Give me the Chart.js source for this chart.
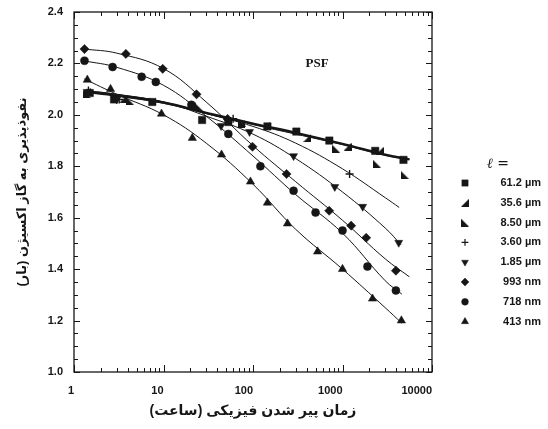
<!DOCTYPE html>
<html>
<head>
<meta charset="utf-8">
<script src="https://cdn.jsdelivr.net/npm/chart.js@4.4.1/dist/chart.umd.min.js"></script>
<style>
  html, body { margin: 0; padding: 0; background: #fff; }
  #wrap { width: 548px; height: 429px; }
</style>
</head>
<body>
<div id="wrap"><canvas id="chart" width="548" height="429"></canvas></div>
<script>
// grain sizes (legend order)
const sizes = ["61.2 µm", "35.6 µm", "8.50 µm", "3.60 µm", "1.85 µm", "993 nm", "718 nm", "413 nm"];

const xTicks = [1, 10, 100, 1000, 10000];
const yTicks = [1.0, 1.2, 1.4, 1.6, 1.8, 2.0, 2.2, 2.4];

// measured points, aging time (h) / permeability (barrer)
const x612 = [1.5, 2.8, 7.5, 27, 53, 145, 305, 713, 2320, 4800];
const y612 = [2.085, 2.06, 2.05, 1.98, 1.972, 1.955, 1.935, 1.90, 1.86, 1.825];
const x356 = [1.4, 3.5, 21, 74, 140, 405, 1140, 2600];
const y356 = [2.09, 2.06, 2.035, 1.965, 1.955, 1.91, 1.876, 1.86];
const x850 = [1.4, 4.2, 25, 76, 850, 2420, 4960];
const y850 = [2.08, 2.055, 2.03, 1.968, 1.868, 1.81, 1.767];
const x360 = [1.45, 3.2, 60, 1200];
const y360 = [2.095, 2.06, 1.985, 1.77];
const x185 = [1.4, 3.0, 44, 91.5, 284, 820, 1680, 4250];
const y185 = [2.09, 2.06, 1.957, 1.934, 1.84, 1.72, 1.643, 1.503];
const x993 = [1.31, 3.8, 9.8, 23.4, 52, 98.7, 237, 710, 1250, 1840, 3950];
const y993 = [2.256, 2.237, 2.179, 2.08, 1.984, 1.876, 1.77, 1.627, 1.569, 1.522, 1.394];
const x718 = [1.31, 2.7, 5.7, 8.2, 20.5, 53, 121, 284, 500, 1000, 1900, 3950];
const y718 = [2.21, 2.186, 2.148, 2.128, 2.039, 1.926, 1.80, 1.705, 1.62, 1.55, 1.41, 1.317];
const x413 = [1.41, 2.56, 9.5, 21, 44.5, 93.7, 145, 243, 527, 1000, 2165, 4550];
const y413 = [2.136, 2.10, 2.004, 1.91, 1.845, 1.74, 1.658, 1.577, 1.468, 1.40, 1.285, 1.20];

// fitted curves
const fitX = [1.3, 3, 10, 30, 100, 300, 1000, 3000];
const fit612 = [2.09, 2.075, 2.048, 2.008, 1.966, 1.93, 1.887, 1.845];
const fit356 = [2.094, 2.075, 2.045, 2.005, 1.962, 1.925, 1.884, 1.843];
const fit360 = [2.095, 2.08, 2.05, 2.005, 1.955, 1.89, 1.79, 1.678];
const fit185 = [2.095, 2.08, 2.05, 1.995, 1.925, 1.83, 1.70, 1.56];
const fit993 = [2.256, 2.24, 2.18, 2.05, 1.88, 1.74, 1.59, 1.44];
const fit718 = [2.21, 2.185, 2.115, 1.995, 1.84, 1.69, 1.54, 1.355];
const fit413 = [2.14, 2.08, 2.00, 1.89, 1.73, 1.555, 1.40, 1.25];
const endX = [5600, 5600, 4300, 4500, 5600, 4600, 4600];
const endY = [1.827, 1.826, 1.64, 1.495, 1.37, 1.303, 1.19];

const ink = "#161616";
const numFont = { family: "'Liberation Sans', Arial, sans-serif", size: 11, weight: "bold" };
const faFont = "'Liberation Sans', 'DejaVu Sans', sans-serif";

function cornerTri(rightSide) {
  const c = document.createElement("canvas");
  c.width = 8; c.height = 8;
  const g = c.getContext("2d");
  g.fillStyle = ink;
  g.beginPath();
  if (rightSide) { g.moveTo(8, 0); g.lineTo(8, 8); g.lineTo(0, 8); }
  else { g.moveTo(0, 0); g.lineTo(0, 8); g.lineTo(8, 8); }
  g.closePath();
  g.fill();
  return c;
}

const markers = [
  { pointStyle: "rect", radius: 5.2, rotation: 0 },
  { pointStyle: cornerTri(true), radius: 4, rotation: 0 },
  { pointStyle: cornerTri(false), radius: 4, rotation: 0 },
  { pointStyle: "cross", radius: 4, rotation: 0 },
  { pointStyle: "triangle", radius: 4.6, rotation: 180 },
  { pointStyle: "rectRot", radius: 4.6, rotation: 0 },
  { pointStyle: "circle", radius: 4, rotation: 0 },
  { pointStyle: "triangle", radius: 4.8, rotation: 0 },
];

const pts = (xs, ys) => xs.map((x, i) => ({ x, y: ys[i] }));
const pointSets = [[x612, y612], [x356, y356], [x850, y850], [x360, y360], [x185, y185], [x993, y993], [x718, y718], [x413, y413]];
const fits = [fit612, fit356, fit360, fit185, fit993, fit718, fit413];

const datasets = [];
pointSets.forEach(([xs, ys], i) => {
  datasets.push({
    type: "scatter",
    label: sizes[i],
    data: pts(xs, ys),
    pointStyle: markers[i].pointStyle,
    rotation: markers[i].rotation,
    pointRadius: markers[i].radius,
    pointBackgroundColor: ink,
    pointBorderColor: ink,
    pointBorderWidth: markers[i].pointStyle === "cross" ? 1.4 : 0.5,
    showLine: false,
    order: 1,
  });
});
fits.forEach((ys, i) => {
  datasets.push({
    type: "line",
    label: "fit",
    data: pts(fitX.concat([endX[i]]), ys.concat([endY[i]])),
    borderColor: ink,
    borderWidth: i === 0 ? 2.4 : 1,
    pointRadius: 0,
    tension: 0.4,
    fill: false,
    order: 2,
  });
});

const frameTicks = {
  id: "frameTicks",
  afterDatasetsDraw(chart) {
    const { ctx, chartArea: a } = chart;
    const xs = chart.scales.x, ys = chart.scales.y;
    ctx.save();
    ctx.strokeStyle = ink;
    ctx.lineWidth = 1.3;
    ctx.strokeRect(a.left, a.top, a.right - a.left, a.bottom - a.top);
    ctx.lineWidth = 1;
    ctx.beginPath();
    for (let d = 1; d <= 10000; d *= 10) {
      for (let m = 1; m <= 9; m++) {
        const v = m * d;
        if (v > 10000) break;
        const px = Math.round(xs.getPixelForValue(v)) + 0.5;
        const len = m === 1 ? 7 : 4;
        ctx.moveTo(px, a.bottom); ctx.lineTo(px, a.bottom - len);
        ctx.moveTo(px, a.top); ctx.lineTo(px, a.top + len);
      }
    }
    for (let k = 0; k <= 28; k++) {
      const v = 1 + k * 0.05;
      const py = Math.round(ys.getPixelForValue(v)) + 0.5;
      const len = k % 4 === 0 ? 6 : 4;
      ctx.moveTo(a.left, py); ctx.lineTo(a.left + len, py);
      ctx.moveTo(a.right, py); ctx.lineTo(a.right - len, py);
    }
    ctx.stroke();

    // PSF tag
    ctx.fillStyle = ink;
    ctx.font = "bold 13px 'Liberation Serif', 'Times New Roman', serif";
    ctx.textAlign = "center";
    ctx.textBaseline = "middle";
    ctx.fillText("PSF", xs.getPixelForValue(520), ys.getPixelForValue(2.2));
    ctx.restore();
  },
};

const sizeLegend = {
  id: "sizeLegend",
  afterDraw(chart) {
    const { ctx } = chart;
    ctx.save();
    ctx.fillStyle = ink;
    ctx.strokeStyle = ink;
    ctx.textBaseline = "middle";
    ctx.font = "italic 14px 'DejaVu Serif', serif";
    ctx.textAlign = "left";
    ctx.fillText("ℓ =", 487, 164);
    ctx.font = "bold 11px 'Liberation Sans', Arial, sans-serif";
    ctx.textAlign = "right";
    sizes.forEach((s, i) => {
      const y = 183 + i * 19.8;
      const m = markers[i];
      ctx.lineWidth = m.pointStyle === "cross" ? 1.2 : 0.5;
      Chart.helpers.drawPoint(ctx, { pointStyle: m.pointStyle, rotation: m.rotation, radius: m.radius * 0.85, borderWidth: ctx.lineWidth }, 465, y);
      ctx.fillText(s, 541, y);
    });
    ctx.restore();
  },
};

new Chart(document.getElementById("chart"), {
  type: "scatter",
  data: { datasets },
  options: {
    responsive: false,
    animation: false,
    layout: { padding: { top: 12, right: 116, left: 0, bottom: 0 } },
    plugins: { legend: { display: false }, tooltip: { enabled: false } },
    scales: {
      x: {
        type: "logarithmic",
        min: 1,
        max: 10000,
        grid: { display: false },
        border: { display: false },
        afterBuildTicks: (s) => { s.ticks = xTicks.map((v) => ({ value: v })); },
        afterFit: (s) => { s.height = 57; },
        ticks: {
          autoSkip: false,
          maxRotation: 0,
          align: "end",
          padding: 4,
          color: ink,
          font: numFont,
          callback: (v) => String(v),
        },
        title: {
          display: true,
          text: "زمان پیر شدن فیزیکی (ساعت)",
          color: ink,
          font: { family: faFont, size: 14, weight: "bold" },
          padding: { top: 0, bottom: 9 },
        },
      },
      y: {
        min: 1.0,
        max: 2.4,
        grid: { display: false },
        border: { display: false },
        afterBuildTicks: (s) => { s.ticks = yTicks.map((v) => ({ value: v })); },
        afterFit: (s) => { s.width = 74; },
        ticks: {
          padding: 3,
          color: ink,
          font: numFont,
          callback: (v) => v.toFixed(1),
        },
        title: {
          display: true,
          text: "نفوذپذیری به گاز اکسیژن (بار)",
          color: ink,
          font: { family: faFont, size: 13, weight: "bold" },
          padding: { top: 15, bottom: 0 },
        },
      },
    },
  },
  plugins: [frameTicks, sizeLegend],
});
</script>
</body>
</html>
